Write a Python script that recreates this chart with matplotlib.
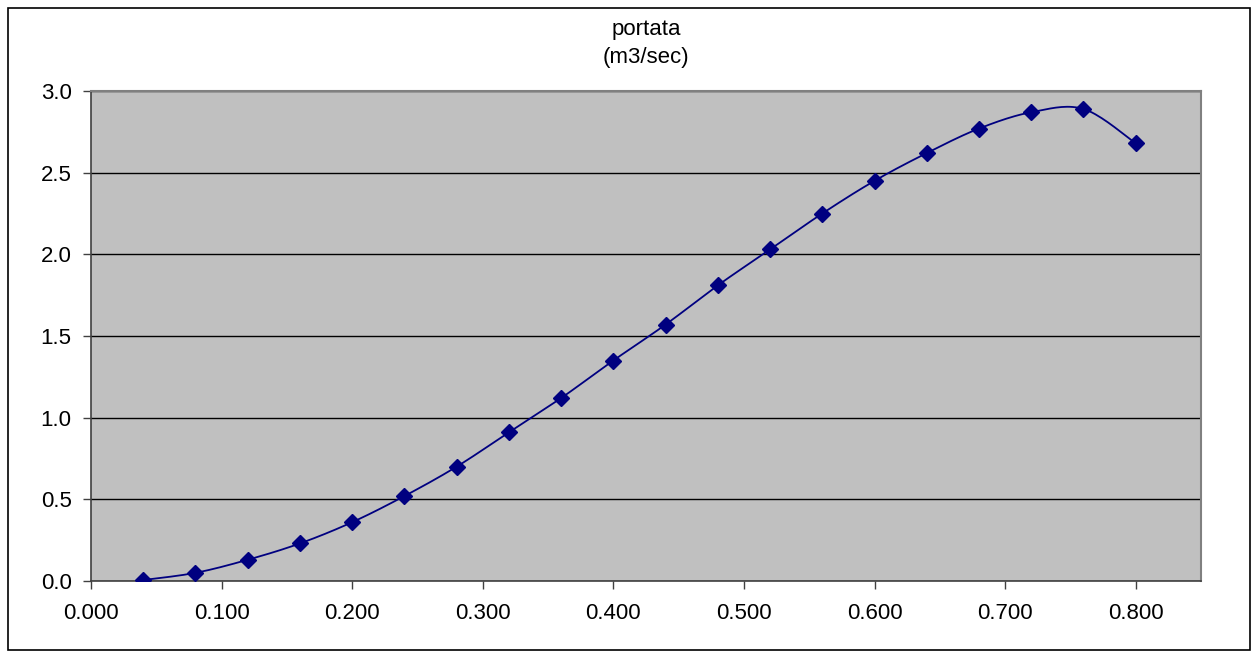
import numpy as np
import matplotlib.pyplot as plt
from matplotlib.patches import Rectangle

# portata (m3/sec) vs x
x_vals = [0.04, 0.08, 0.12, 0.16, 0.20, 0.24, 0.28, 0.32, 0.36, 0.40,
          0.44, 0.48, 0.52, 0.56, 0.60, 0.64, 0.68, 0.72, 0.76, 0.80]
portata = [0.006, 0.05, 0.13, 0.23, 0.36, 0.52, 0.70, 0.91, 1.12, 1.35,
           1.57, 1.81, 2.03, 2.25, 2.45, 2.62, 2.77, 2.87, 2.89, 2.68]
x_ticks = [0.0, 0.1, 0.2, 0.3, 0.4, 0.5, 0.6, 0.7, 0.8]
y_ticks = [0.0, 0.5, 1.0, 1.5, 2.0, 2.5, 3.0]


def smooth_curve(xs, ys, n=20):
    # Catmull-Rom style smoothing like Excel's "smoothed line"
    xs = np.asarray(xs, float)
    ys = np.asarray(ys, float)
    px, py = [], []
    for i in range(len(xs) - 1):
        i0 = max(i - 1, 0)
        i3 = min(i + 2, len(xs) - 1)
        p0 = np.array([xs[i0], ys[i0]])
        p1 = np.array([xs[i], ys[i]])
        p2 = np.array([xs[i + 1], ys[i + 1]])
        p3 = np.array([xs[i3], ys[i3]])
        c1 = p1 + (p2 - p0) / 6.0
        c2 = p2 - (p3 - p1) / 6.0
        t = np.linspace(0, 1, n)[:, None]
        pts = ((1 - t) ** 3) * p1 + 3 * ((1 - t) ** 2) * t * c1 + 3 * (1 - t) * t ** 2 * c2 + t ** 3 * p2
        px.extend(pts[:, 0])
        py.extend(pts[:, 1])
    return px, py


plt.rcParams['font.family'] = ['Liberation Sans', 'DejaVu Sans']

fig = plt.figure(figsize=(12.56, 6.51), dpi=100)
fig.patches.append(Rectangle((8 / 1256, 0.002), 1242 / 1256, 1 - 8 / 651 - 0.002,
                             transform=fig.transFigure, fill=False,
                             edgecolor='black', linewidth=1.2))

ax = fig.add_axes([91 / 1256, 1 - 581 / 651, 1110 / 1256, 490 / 651])
ax.set_facecolor('#c0c0c0')

sx, sy = smooth_curve(x_vals, portata)
ax.plot(sx, sy, color='#000080', linewidth=1.3, zorder=3)
ax.plot(x_vals, portata, linestyle='none', marker='D', markersize=8,
        color='#000080', zorder=4)

ax.set_xlim(0, 0.85)
ax.set_ylim(0, 3.0)
ax.set_xticks(x_ticks)
ax.set_xticklabels([f'{v:.3f}' for v in x_ticks])
ax.set_yticks(y_ticks)
ax.set_yticklabels([f'{v:.1f}' for v in y_ticks])

ax.yaxis.grid(True, color='black', linewidth=1.0)
ax.set_axisbelow(True)

for side in ['left', 'bottom']:
    ax.spines[side].set_color('#404040')
    ax.spines[side].set_linewidth(1.2)
for side in ['right', 'top']:
    ax.spines[side].set_color('#808080')
    ax.spines[side].set_linewidth(1.5)

ax.tick_params(axis='both', direction='out', length=6, width=1.0,
               color='#404040', labelsize=16)
ax.tick_params(axis='x', pad=10)
ax.tick_params(axis='y', pad=8)

ax.set_title('portata\n(m3/sec)', fontsize=16, pad=20, linespacing=1.45)

fig.savefig('out.png', dpi=100)
